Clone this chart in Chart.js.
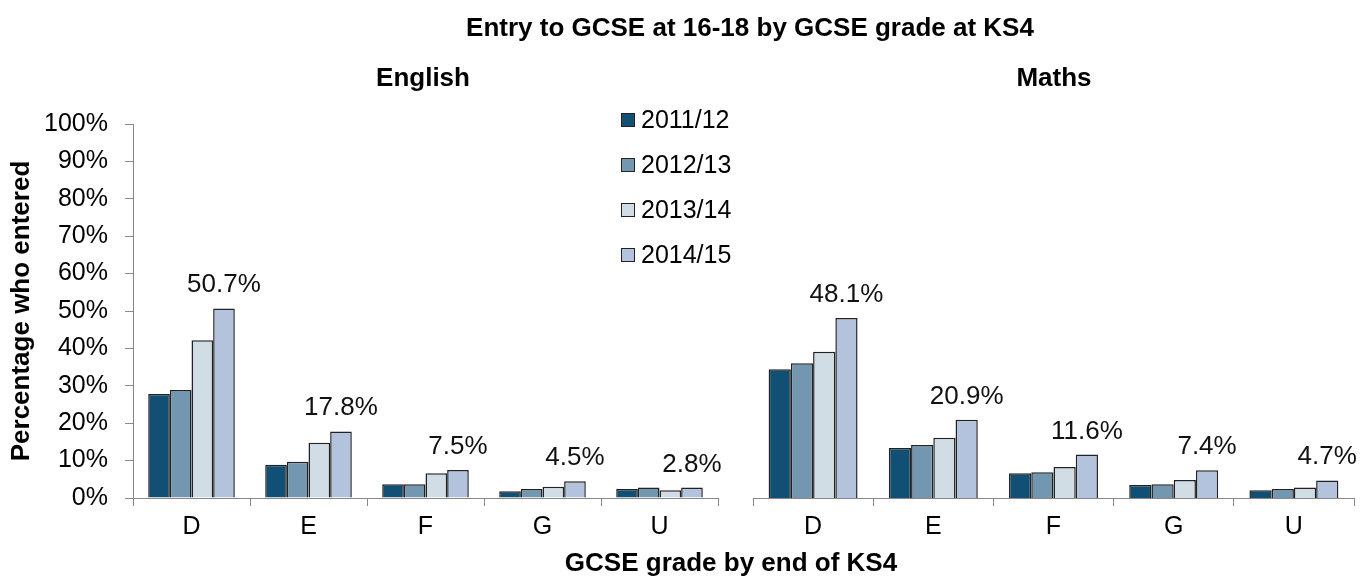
<!DOCTYPE html>
<html>
<head>
<meta charset="utf-8">
<script src="https://cdn.jsdelivr.net/npm/chart.js@4.4.0/dist/chart.umd.min.js"></script>
<style>
  body { margin: 0; background: #fff; font-family: "Liberation Sans", Arial, sans-serif; }
  #wrap { position: relative; width: 1372px; height: 577px; overflow: hidden; }
  canvas { position: absolute; top: 0; }
  #englishChart { left: 0; }
  #mathsChart { left: 735px; }
  .txt { position: absolute; transform: translate(-50%, -50%); white-space: nowrap; font-weight: bold; font-size: 26px; color: #000; }
  #legend { position: absolute; left: 621px; top: 97px; z-index: 5; }
  .item { display: flex; align-items: center; height: 45px; font-size: 25px; color: #000; }
  .box { width: 12px; height: 12px; border: 1px solid #222; margin-right: 6px; }
</style>
</head>
<body>
<div id="wrap">
  <canvas id="englishChart" width="730" height="577"></canvas>
  <canvas id="mathsChart" width="637" height="577"></canvas>
  <div class="txt" style="left:750px;top:27px;">Entry to GCSE at 16-18 by GCSE grade at KS4</div>
  <div class="txt" style="left:423px;top:77px;">English</div>
  <div class="txt" style="left:1054px;top:77px;">Maths</div>
  <div class="txt" style="left:731px;top:562px;">GCSE grade by end of KS4</div>
  <div id="legend"></div>
</div>
<script>
const years = ['2011/12', '2012/13', '2013/14', '2014/15'];
const grades = ['D', 'E', 'F', 'G', 'U'];
const yearColors = ['#124f74', '#7397b0', '#d1dde5', '#b3c3de'];

const english2011 = [27.8, 8.9, 3.7, 1.8, 2.4];
const english2012 = [28.9, 9.7, 3.7, 2.4, 2.8];
const english2013 = [42.2, 14.8, 6.6, 3.0, 2.1];
const english2014 = [50.7, 17.8, 7.5, 4.5, 2.8];

const maths2011 = [34.4, 13.4, 6.6, 3.5, 2.1];
const maths2012 = [36.0, 14.2, 6.9, 3.7, 2.4];
const maths2013 = [39.1, 16.1, 8.3, 4.8, 2.8];
const maths2014 = [48.1, 20.9, 11.6, 7.4, 4.7];

const fontFamily = '"Liberation Sans", Arial, sans-serif';
Chart.defaults.font.family = fontFamily;

// labels above the last (2014/15) series only
const valueLabels = {
    id: 'valueLabels',
    afterDatasetsDraw(chart) {
        const last = chart.data.datasets.length - 1;
        const meta = chart.getDatasetMeta(last);
        const ctx = chart.ctx;
        ctx.save();
        ctx.font = '26px ' + fontFamily;
        ctx.fillStyle = '#111';
        ctx.textAlign = 'center';
        ctx.textBaseline = 'alphabetic';
        meta.data.forEach((bar, i) => {
            const value = chart.data.datasets[last].data[i];
            ctx.fillText(value.toFixed(1) + '%', bar.x, bar.y - 16);
        });
        ctx.restore();
    }
};

function makeDatasets(series) {
    return series.map((data, i) => ({
        label: years[i],
        data: data,
        backgroundColor: yearColors[i],
        borderColor: '#222',
        borderWidth: 1.5,
        barPercentage: 1,
        categoryPercentage: 0.74,
    }));
}

function xAxis() {
    return {
        grid: { offset: true, drawOnChartArea: false, tickLength: 8, color: '#888' },
        border: { color: '#888' },
        ticks: { font: { size: 25 }, color: '#000', padding: 6 },
        afterFit: scale => { scale.height = 79; },
    };
}

function yAxis(showY) {
    const axis = {
        display: showY,
        min: 0,
        max: 100,
        ticks: { stepSize: 10, callback: v => v + '%', font: { size: 25 }, color: '#000', padding: 17 },
        grid: { drawOnChartArea: false, tickLength: 8, color: '#888' },
        border: { color: '#888' },
        title: {
            display: true,
            text: 'Percentage who entered',
            font: { size: 26, weight: 'bold' },
            color: '#000',
            padding: { top: 6, bottom: 0 },
        },
    };
    if (showY) {
        axis.afterFit = scale => { scale.width = 133; };
    }
    return axis;
}

function makeChart(id, series, showY, padding) {
    const ctx = document.getElementById(id).getContext('2d');
    return new Chart(ctx, {
        type: 'bar',
        data: { labels: grades, datasets: makeDatasets(series) },
        options: {
            responsive: false,
            animation: false,
            layout: { padding: padding },
            plugins: { legend: { display: false }, tooltip: { enabled: false } },
            scales: { x: xAxis(), y: yAxis(showY) },
        },
        plugins: [valueLabels],
    });
}

const englishChart = makeChart('englishChart',
    [english2011, english2012, english2013, english2014], true,
    { top: 124, left: 0, right: 12, bottom: 0 });
makeChart('mathsChart',
    [maths2011, maths2012, maths2013, maths2014], false,
    { top: 124, left: 18, right: 18, bottom: 0 });

// legend built from the dataset labels and colours
const legend = document.getElementById('legend');
englishChart.data.datasets.forEach(ds => {
    const item = document.createElement('div');
    item.className = 'item';
    const box = document.createElement('span');
    box.className = 'box';
    box.style.background = ds.backgroundColor;
    const text = document.createElement('span');
    text.textContent = ds.label;
    item.appendChild(box);
    item.appendChild(text);
    legend.appendChild(item);
});
</script>
</body>
</html>
